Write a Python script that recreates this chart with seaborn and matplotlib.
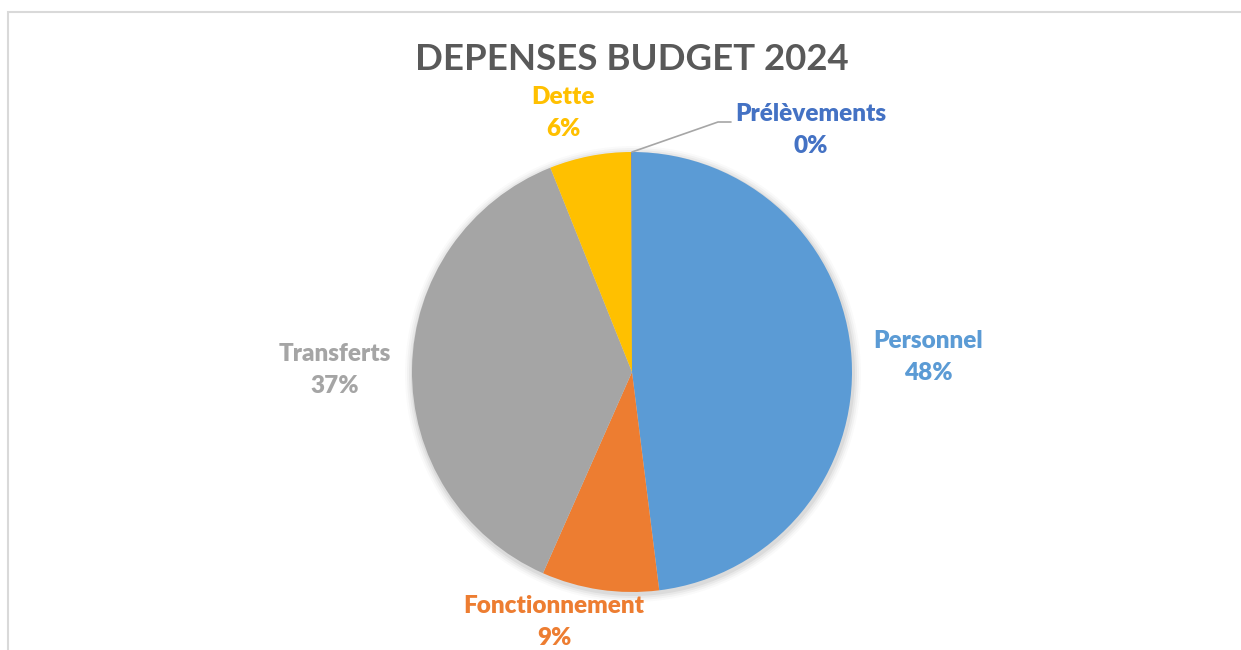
import matplotlib
matplotlib.use("Agg")
import matplotlib.pyplot as plt
import seaborn as sns
from matplotlib.patches import Rectangle, Circle

categories = ["Personnel", "Fonctionnement", "Transferts", "Dette", "Prélèvements"]
values = [48.0, 8.6, 37.3, 6.0, 0.05]
colors = ["#5B9BD5", "#ED7D31", "#A5A5A5", "#FFC000", "#4472C4"]
title = "DEPENSES BUDGET 2024"

sns.set_theme(style="white")
plt.rcParams['font.family'] = ['Lato', 'DejaVu Sans']

W, H = 1241, 650
fig = plt.figure(figsize=(W / 100, H / 100), dpi=100)
ax = fig.add_axes([0, 0, 1, 1])
ax.set_axis_off()

def Y(y):
    return H - y

cx, cy, r = 632, 372, 220

# soft shadow
for i, a in enumerate([0.05, 0.04, 0.03, 0.02]):
    ax.add_patch(Circle((cx + 1, Y(cy) - 2), r + 2 + 2 * i, color="black", alpha=a, lw=0, zorder=0))

ax.pie(values, colors=colors, startangle=90, counterclock=False,
       center=(cx, Y(cy)), radius=r, wedgeprops=dict(linewidth=0, zorder=2))
ax.set_xlim(0, W)
ax.set_ylim(0, H)
ax.set_aspect('equal')

total = sum(values)
label_pos = {
    "Personnel": (928, 341),
    "Fonctionnement": (554, 606),
    "Transferts": (335, 354),
    "Dette": (563, 97),
    "Prélèvements": (811, 114),
}
for cat, v, col in zip(categories, values, colors):
    x, y = label_pos[cat]
    pct = f"{round(v / total * 100):.0f}%"
    ax.text(x, Y(y), cat, color=col, fontsize=17.5, fontweight='heavy', ha='center', va='center', zorder=5)
    ax.text(x, Y(y + 32), pct, color=col, fontsize=17.5, fontweight='heavy', ha='center', va='center', zorder=5)

# leader line for Prélèvements
ax.plot([632, 718, 731], [Y(152), Y(122), Y(122)], color="#A6A6A6", lw=1.2, zorder=4)

ax.text(632, Y(60), title, color="#595959", fontsize=26.4, fontweight='bold', ha='center', va='center')

# chart frame
fig.patches.append(Rectangle((8 / W, -0.2), 1.2, 1.2 - 12 / H, transform=fig.transFigure,
                             fill=False, edgecolor="#D9D9D9", lw=1.5))

fig.savefig("out.png", dpi=100, facecolor="white")
